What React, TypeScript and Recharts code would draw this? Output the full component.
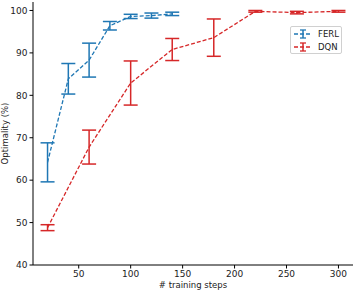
import { LineChart, Line, XAxis, YAxis, ErrorBar } from "recharts";

const FERL_STEPS = [20, 40, 60, 80, 100, 120, 140];
const FERL_MEAN = [64.2, 83.9, 88.3, 96.4, 98.6, 98.8, 99.2];
const FERL_ERR = [4.6, 3.6, 4.0, 1.0, 0.5, 0.6, 0.4];

const DQN_STEPS = [20, 60, 100, 140, 180, 220, 260, 300];
const DQN_MEAN = [48.8, 67.8, 82.9, 90.8, 93.6, 99.8, 99.5, 99.8];
const DQN_ERR = [0.7, 4.0, 5.2, 2.6, 4.4, 0.2, 0.3, 0.2];

const X_TICKS = [50, 100, 150, 200, 250, 300];
const Y_TICKS = [40, 50, 60, 70, 80, 90, 100];

const BLUE = "#1f77b4";
const RED = "#d62728";
const FONT = "DejaVu Sans, sans-serif";

const ferlData = FERL_STEPS.map((x, i) => ({ x, y: FERL_MEAN[i], err: FERL_ERR[i] }));
const dqnData = DQN_STEPS.map((x, i) => ({ x, y: DQN_MEAN[i], err: DQN_ERR[i] }));

const LEGEND_ITEMS = [
    { name: "FERL", color: BLUE },
    { name: "DQN", color: RED },
];

// legend drawn as plain html over the chart (recharts Legend steals plot space)
function LegendBox() {
    return (
        <div
            style={{
                position: "absolute",
                left: 290,
                top: 26,
                width: 52,
                height: 28,
                boxSizing: "border-box",
                background: "#fff",
                border: "1px solid #d0d0d0",
                borderRadius: 2,
                padding: "1px 0 0 2px",
                fontFamily: FONT,
                fontSize: 8.5,
                lineHeight: "12.5px",
            }}
        >
            {LEGEND_ITEMS.map((it) => (
                <div key={it.name} style={{ display: "flex", alignItems: "center" }}>
                    <svg width={20} height={12} style={{ marginRight: 5 }}>
                        <line x1={1} y1={6} x2={19} y2={6} stroke={it.color} strokeWidth={1.3} strokeDasharray="4 2" />
                        <line x1={10} y1={2} x2={10} y2={10} stroke={it.color} strokeWidth={1.5} />
                        <line x1={7} y1={2} x2={13} y2={2} stroke={it.color} strokeWidth={1.3} />
                        <line x1={7} y1={10} x2={13} y2={10} stroke={it.color} strokeWidth={1.3} />
                    </svg>
                    <span style={{ color: "#222" }}>{it.name}</span>
                </div>
            ))}
        </div>
    );
}

export default function App() {
    const tickStyle = { fontSize: 9, fill: "#222", fontFamily: FONT };
    return (
        <div style={{ position: "absolute", left: 0, top: 0, width: 354, height: 292, background: "#fff" }}>
            <LineChart width={354} height={292} margin={{ top: 2, right: 1, bottom: 0, left: 0 }}>
                <XAxis
                    dataKey="x"
                    type="number"
                    domain={[6, 314]}
                    ticks={X_TICKS}
                    allowDuplicatedCategory={false}
                    height={27}
                    tick={tickStyle}
                    tickSize={3.5}
                    tickLine={{ stroke: "#000" }}
                    axisLine={{ stroke: "#000" }}
                    label={{ value: "# training steps", position: "insideBottom", offset: 4, style: { fontSize: 8.5, fill: "#222", fontFamily: FONT } }}
                />
                <XAxis xAxisId="top" orientation="top" type="number" domain={[6, 314]} height={0} tick={false} tickLine={false} axisLine={{ stroke: "#000" }} />
                <YAxis
                    type="number"
                    domain={[40, 102]}
                    ticks={Y_TICKS}
                    width={33}
                    tick={tickStyle}
                    tickSize={3.5}
                    tickLine={{ stroke: "#000" }}
                    axisLine={{ stroke: "#000" }}
                    label={{ value: "Optimality (%)", angle: -90, position: "insideLeft", offset: 5, style: { fontSize: 8.5, fill: "#222", fontFamily: FONT, textAnchor: "middle" } }}
                />
                <YAxis yAxisId="right" orientation="right" domain={[40, 102]} width={0} tick={false} tickLine={false} axisLine={{ stroke: "#000" }} />
                <Line
                    data={ferlData}
                    dataKey="y"
                    name="FERL"
                    type="linear"
                    stroke={BLUE}
                    strokeWidth={1.3}
                    strokeDasharray="4 2"
                    dot={false}
                    activeDot={false}
                    isAnimationActive={false}
                >
                    <ErrorBar dataKey="err" direction="y" width={7} stroke={BLUE} strokeWidth={1.5} isAnimationActive={false} />
                </Line>
                <Line
                    data={dqnData}
                    dataKey="y"
                    name="DQN"
                    type="linear"
                    stroke={RED}
                    strokeWidth={1.3}
                    strokeDasharray="4 2"
                    dot={false}
                    activeDot={false}
                    isAnimationActive={false}
                >
                    <ErrorBar dataKey="err" direction="y" width={7} stroke={RED} strokeWidth={1.5} isAnimationActive={false} />
                </Line>
            </LineChart>
            <LegendBox />
        </div>
    );
}
